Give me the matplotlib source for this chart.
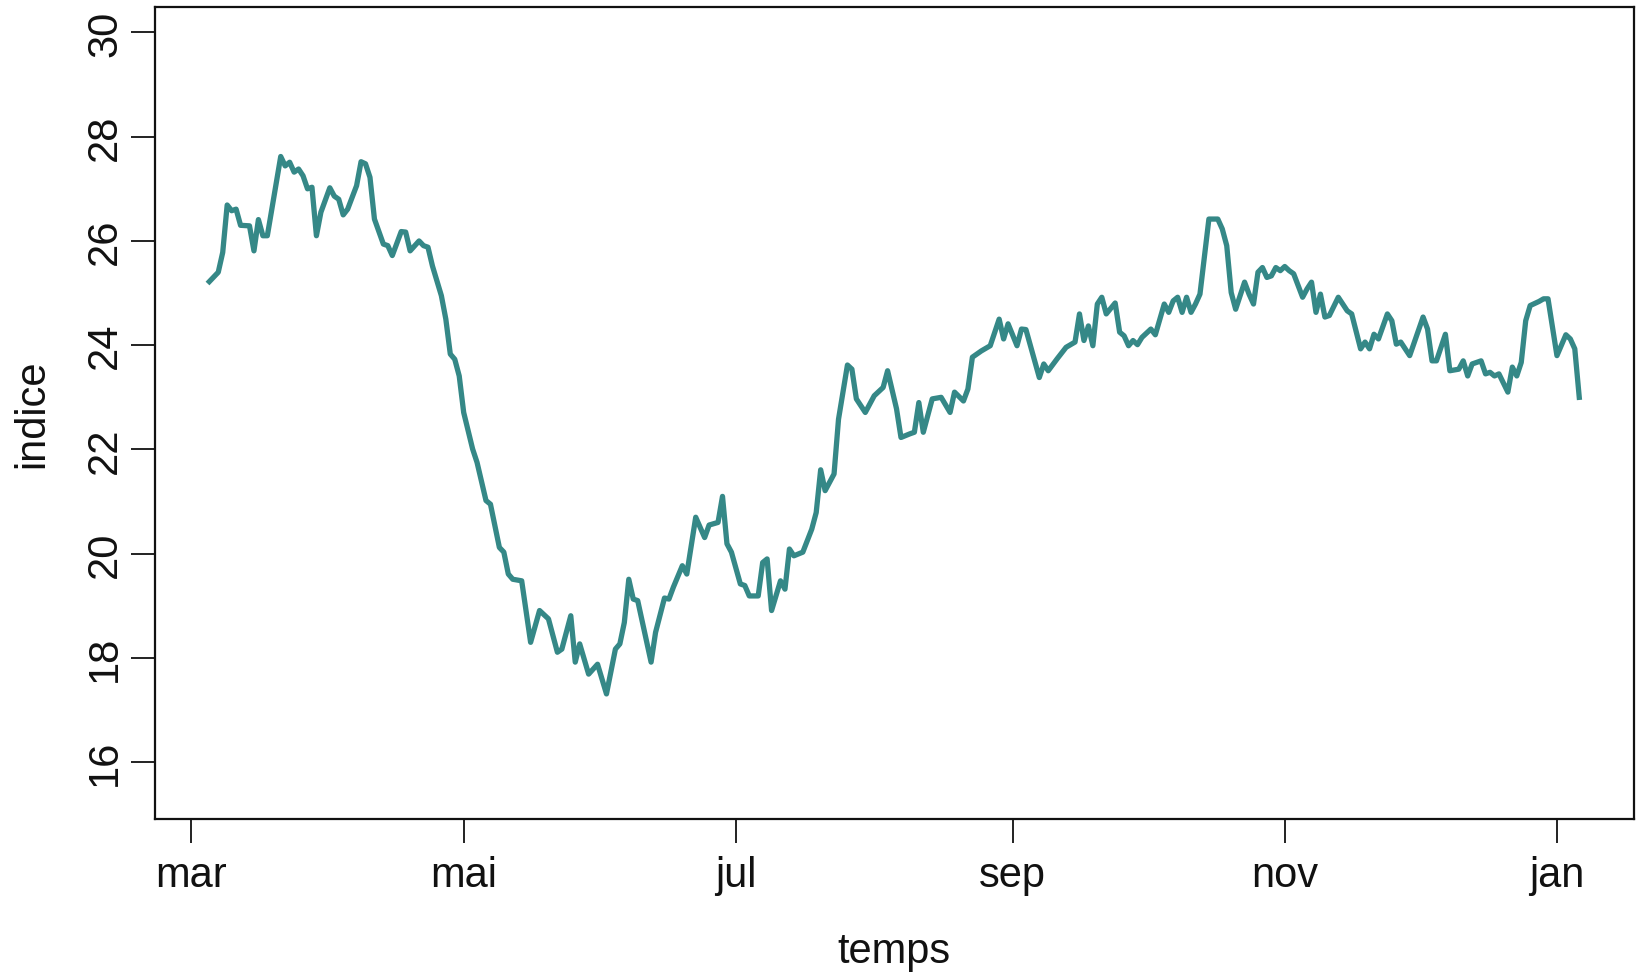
import matplotlib
matplotlib.use("Agg")
import matplotlib.pyplot as plt
import pandas as pd

# ---- data ----
start_date = "2020-03-01"
jours = [4, 6, 7, 8, 9, 10, 11, 13, 14, 15, 16, 17, 20, 21, 22, 23, 24, 25, 26, 27,
         28, 29, 31, 32, 33, 34, 35, 37, 38, 39, 40, 41, 43, 44, 45, 47, 48, 49, 51, 52,
         53, 54, 56, 57, 58, 59, 60, 61, 63, 64, 66, 67, 69, 70, 71, 72, 74, 76, 78, 80,
         82, 83, 85, 86, 87, 89, 91, 93, 95, 96, 97, 98, 99, 100, 103, 104, 106, 107, 108, 110,
         111, 113, 115, 116, 118, 119, 120, 121, 123, 124, 125, 127, 128, 129, 130, 132, 133, 134, 135, 137,
         139, 140, 141, 142, 144, 145, 147, 148, 149, 151, 153, 155, 156, 158, 159, 161, 162, 163, 164, 166,
         168, 170, 171, 173, 174, 175, 177, 179, 181, 182, 183, 185, 186, 187, 190, 191, 192, 194, 196, 198,
         199, 200, 201, 202, 203, 204, 205, 207, 208, 209, 210, 211, 212, 213, 215, 216, 218, 219, 220, 221,
         222, 223, 224, 225, 226, 228, 230, 231, 232, 233, 234, 236, 237, 238, 239, 240, 241, 242, 243, 244,
         245, 246, 247, 249, 250, 251, 252, 253, 254, 255, 257, 259, 260, 262, 263, 264, 265, 266, 268, 269,
         270, 271, 273, 276, 277, 278, 279, 281, 282, 284, 285, 286, 287, 289, 290, 291, 292, 293, 295, 296,
         297, 298, 299, 300, 302, 303, 304, 306, 308, 309, 310, 311]
indice = [25.22, 25.40, 25.78, 26.69, 26.58, 26.61, 26.30, 26.29, 25.81, 26.41, 26.10, 26.10, 27.62, 27.44, 27.51, 27.32, 27.38, 27.25, 27.00, 27.03,
          26.10, 26.55, 27.02, 26.86, 26.80, 26.50, 26.61, 27.06, 27.52, 27.48, 27.22, 26.42, 25.94, 25.91, 25.72, 26.18, 26.17, 25.81, 26.00, 25.91,
          25.88, 25.52, 24.95, 24.50, 23.83, 23.73, 23.41, 22.71, 22.01, 21.75, 21.02, 20.95, 20.12, 20.03, 19.61, 19.51, 19.48, 18.30, 18.91, 18.75,
          18.11, 18.17, 18.81, 17.92, 18.27, 17.69, 17.88, 17.31, 18.17, 18.27, 18.68, 19.51, 19.13, 19.10, 17.92, 18.49, 19.15, 19.13, 19.36, 19.77,
          19.61, 20.70, 20.31, 20.55, 20.60, 21.10, 20.19, 20.03, 19.42, 19.39, 19.19, 19.19, 19.83, 19.90, 18.91, 19.48, 19.32, 20.09, 19.96, 20.03,
          20.47, 20.79, 21.61, 21.21, 21.53, 22.58, 23.62, 23.54, 22.97, 22.71, 23.03, 23.19, 23.51, 22.78, 22.23, 22.30, 22.33, 22.90, 22.33, 22.97,
          23.00, 22.71, 23.10, 22.93, 23.16, 23.77, 23.89, 23.99, 24.50, 24.12, 24.41, 23.99, 24.31, 24.30, 23.38, 23.64, 23.51, 23.74, 23.96, 24.06,
          24.60, 24.09, 24.37, 23.99, 24.79, 24.92, 24.60, 24.81, 24.25, 24.18, 23.99, 24.09, 24.01, 24.15, 24.31, 24.20, 24.79, 24.63, 24.85, 24.92,
          24.63, 24.92, 24.63, 24.79, 24.98, 26.42, 26.42, 26.23, 25.91, 25.01, 24.69, 25.21, 24.98, 24.79, 25.40, 25.49, 25.30, 25.33, 25.49, 25.43,
          25.51, 25.43, 25.37, 24.92, 25.08, 25.21, 24.63, 24.98, 24.54, 24.57, 24.92, 24.66, 24.60, 23.93, 24.06, 23.93, 24.21, 24.12, 24.60, 24.47,
          24.02, 24.06, 23.80, 24.54, 24.31, 23.70, 23.70, 24.21, 23.51, 23.54, 23.70, 23.41, 23.64, 23.70, 23.45, 23.48, 23.41, 23.45, 23.10, 23.58,
          23.41, 23.67, 24.47, 24.76, 24.84, 24.89, 24.89, 23.80, 24.20, 24.12, 23.93, 23.00]
month_ticks = ["2020-03-01", "2020-05-01", "2020-07-01", "2020-09-01", "2020-11-01", "2021-01-01"]
month_labels = ["mar", "mai", "jul", "sep", "nov", "jan"]
y_ticks = [16, 18, 20, 22, 24, 26, 28, 30]

dates = pd.Timestamp(start_date) + pd.to_timedelta(jours, unit="D")

plt.rcParams["font.family"] = ["Liberation Sans", "DejaVu Sans"]

fig = plt.figure(figsize=(16.37, 9.79), dpi=100)
ax = fig.add_axes([0.0944, 0.1629, 0.9038, 0.8285])

ax.plot(dates, indice, color="#358887", lw=3.8, solid_joinstyle="round")

# R-like 4% extension on x
d0, d1 = dates.min(), dates.max()
ext = (d1 - d0) * 0.04
ax.set_xlim(d0 - ext, d1 + ext)
ax.set_ylim(14.92, 30.48)

ax.set_xticks(pd.to_datetime(month_ticks))
ax.set_xticklabels(month_labels)
ax.set_yticks(y_ticks)
ax.set_yticklabels([str(v) for v in y_ticks], rotation=90, va="center")

for s in ax.spines.values():
    s.set_linewidth(1.6)
    s.set_color("#111111")

ax.tick_params(axis="both", length=17, width=1.3, color="#111111",
               labelsize=30, labelcolor="#111111")
ax.tick_params(axis="x", pad=9)
ax.tick_params(axis="y", pad=4)

ax.set_xlabel("temps", fontsize=30, color="#111111", labelpad=26)
ax.set_ylabel("indice", fontsize=30, color="#111111", labelpad=24)

fig.savefig("out.png", dpi=100, facecolor="white")
